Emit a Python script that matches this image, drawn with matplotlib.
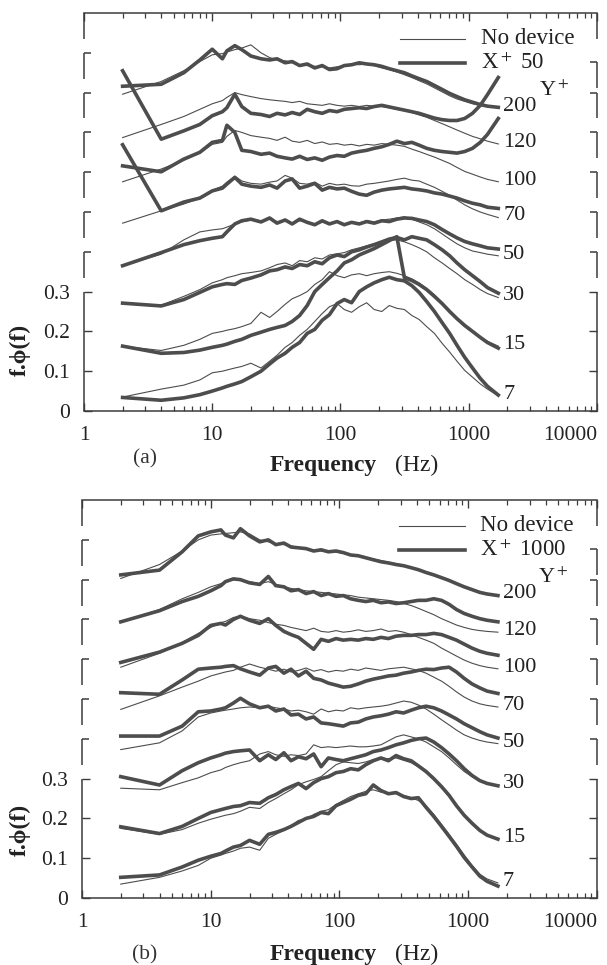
import matplotlib
matplotlib.use('Agg')
import matplotlib.pyplot as plt
from matplotlib.ticker import FixedLocator, LogLocator, NullFormatter

plt.rcParams['font.family'] = ['Liberation Serif', 'DejaVu Serif']
plt.rcParams['mathtext.fontset'] = 'stix'

INK = '#4d4d4d'
AXIS = '#3c3c3c'

# frequency bins (Hz), shared by every spectrum
freq = [2, 4, 6, 8, 10, 12, 13, 15, 17, 20, 24, 28, 32, 37,
        42, 48, 55, 63, 72, 82, 94, 107, 122, 140, 160, 183, 210, 240,
        275, 315, 360, 410, 470, 540, 620, 710, 810, 930, 1070, 1230, 1400, 1700]

y_plus = ['7', '15', '30', '50', '70', '100', '120', '200']
x_ticks = [1, 10, 100, 1000, 10000]
x_tick_labels = ['1', '10', '100', '1000', '10000']
y_ticks = [0, 0.1, 0.2, 0.3]
y_tick_labels = ['0', '0.1', '0.2', '0.3']

# ---- panel (a): no device / X+ 50 (curves already offset as drawn) ----
a_none_7 = [0.035, 0.055, 0.065, 0.078, 0.096, 0.100, 0.103, 0.108, 0.112, 0.120, 0.108, 0.125, 0.140, 0.160,
            0.172, 0.190, 0.205, 0.225, 0.245, 0.262, 0.270, 0.255, 0.248, 0.262, 0.272, 0.255, 0.250, 0.265,
            0.258, 0.255, 0.240, 0.230, 0.212, 0.195, 0.170, 0.148, 0.125, 0.102, 0.085, 0.068, 0.055, 0.038]
a_x50_7 = [0.034, 0.027, 0.033, 0.041, 0.050, 0.058, 0.062, 0.068, 0.074, 0.086, 0.100, 0.118, 0.133, 0.145,
           0.160, 0.172, 0.195, 0.205, 0.228, 0.242, 0.270, 0.280, 0.272, 0.300, 0.312, 0.322, 0.330, 0.336,
           0.330, 0.327, 0.315, 0.298, 0.275, 0.250, 0.222, 0.195, 0.165, 0.135, 0.108, 0.082, 0.062, 0.040]
a_none_15 = [0.163, 0.152, 0.165, 0.180, 0.195, 0.200, 0.203, 0.207, 0.212, 0.220, 0.248, 0.235, 0.250, 0.268,
             0.282, 0.290, 0.300, 0.318, 0.330, 0.350, 0.340, 0.335, 0.342, 0.345, 0.340, 0.345, 0.348, 0.350,
             0.346, 0.340, 0.332, 0.322, 0.308, 0.292, 0.272, 0.250, 0.230, 0.212, 0.198, 0.185, 0.175, 0.163]
a_x50_15 = [0.163, 0.145, 0.147, 0.153, 0.160, 0.165, 0.168, 0.175, 0.180, 0.190, 0.198, 0.205, 0.210, 0.215,
            0.225, 0.240, 0.265, 0.300, 0.318, 0.335, 0.352, 0.372, 0.380, 0.392, 0.400, 0.408, 0.418, 0.428,
            0.438, 0.335, 0.328, 0.318, 0.305, 0.288, 0.270, 0.250, 0.232, 0.215, 0.200, 0.185, 0.172, 0.158]
a_none_30 = [0.271, 0.266, 0.288, 0.305, 0.322, 0.330, 0.335, 0.340, 0.345, 0.348, 0.352, 0.360, 0.368, 0.372,
             0.365, 0.378, 0.375, 0.385, 0.382, 0.392, 0.395, 0.398, 0.405, 0.410, 0.415, 0.420, 0.425, 0.428,
             0.430, 0.425, 0.418, 0.410, 0.400, 0.385, 0.372, 0.358, 0.345, 0.330, 0.318, 0.305, 0.295, 0.285]
a_x50_30 = [0.271, 0.264, 0.280, 0.298, 0.312, 0.318, 0.320, 0.318, 0.328, 0.334, 0.342, 0.352, 0.355, 0.362,
            0.358, 0.368, 0.365, 0.375, 0.370, 0.385, 0.392, 0.388, 0.400, 0.405, 0.412, 0.418, 0.425, 0.432,
            0.436, 0.430, 0.438, 0.434, 0.430, 0.418, 0.405, 0.390, 0.372, 0.355, 0.340, 0.325, 0.310, 0.296]
a_none_50 = [0.365, 0.394, 0.430, 0.450, 0.455, 0.458, 0.462, 0.470, 0.475, 0.480, 0.478, 0.482, 0.476, 0.478,
             0.472, 0.478, 0.475, 0.470, 0.474, 0.472, 0.476, 0.470, 0.475, 0.472, 0.478, 0.475, 0.480, 0.482,
             0.485, 0.488, 0.482, 0.475, 0.468, 0.458, 0.445, 0.432, 0.420, 0.410, 0.402, 0.398, 0.394, 0.390]
a_x50_50 = [0.365, 0.398, 0.418, 0.428, 0.434, 0.438, 0.450, 0.470, 0.478, 0.482, 0.475, 0.485, 0.472, 0.480,
            0.470, 0.482, 0.474, 0.468, 0.478, 0.470, 0.476, 0.468, 0.474, 0.470, 0.476, 0.472, 0.478, 0.476,
            0.482, 0.485, 0.484, 0.480, 0.476, 0.468, 0.456, 0.445, 0.435, 0.426, 0.420, 0.415, 0.410, 0.407]
a_none_70 = [0.472, 0.503, 0.520, 0.535, 0.555, 0.565, 0.575, 0.590, 0.578, 0.572, 0.570, 0.575, 0.578, 0.592,
             0.585, 0.572, 0.570, 0.575, 0.565, 0.572, 0.568, 0.570, 0.566, 0.565, 0.570, 0.572, 0.575, 0.578,
             0.582, 0.585, 0.580, 0.578, 0.570, 0.562, 0.552, 0.542, 0.530, 0.518, 0.508, 0.500, 0.494, 0.486]
a_x50_70 = [0.669, 0.503, 0.525, 0.535, 0.553, 0.560, 0.570, 0.587, 0.570, 0.565, 0.562, 0.568, 0.560, 0.578,
            0.583, 0.560, 0.565, 0.572, 0.555, 0.562, 0.558, 0.560, 0.552, 0.545, 0.542, 0.550, 0.555, 0.558,
            0.560, 0.562, 0.558, 0.556, 0.553, 0.548, 0.545, 0.540, 0.535, 0.528, 0.522, 0.518, 0.512, 0.509]
a_none_100 = [0.576, 0.608, 0.630, 0.648, 0.670, 0.675, 0.690, 0.705, 0.700, 0.692, 0.688, 0.685, 0.680, 0.688,
              0.678, 0.675, 0.680, 0.672, 0.676, 0.670, 0.672, 0.668, 0.670, 0.666, 0.670, 0.668, 0.672, 0.670,
              0.668, 0.665, 0.658, 0.652, 0.645, 0.638, 0.630, 0.622, 0.612, 0.602, 0.595, 0.588, 0.582, 0.576]
a_x50_100 = [0.616, 0.601, 0.633, 0.650, 0.675, 0.680, 0.718, 0.700, 0.655, 0.652, 0.645, 0.648, 0.640, 0.636,
             0.633, 0.640, 0.632, 0.636, 0.630, 0.638, 0.642, 0.640, 0.648, 0.652, 0.655, 0.660, 0.664, 0.670,
             0.678, 0.672, 0.675, 0.668, 0.660, 0.655, 0.652, 0.650, 0.648, 0.652, 0.660, 0.675, 0.695, 0.735]
a_none_120 = [0.687, 0.720, 0.740, 0.758, 0.772, 0.780, 0.788, 0.800, 0.795, 0.790, 0.785, 0.782, 0.780, 0.778,
              0.775, 0.778, 0.772, 0.770, 0.768, 0.772, 0.768, 0.766, 0.768, 0.765, 0.768, 0.766, 0.765, 0.762,
              0.758, 0.755, 0.750, 0.744, 0.738, 0.730, 0.722, 0.714, 0.706, 0.698, 0.690, 0.684, 0.678, 0.671]
a_x50_120 = [0.855, 0.683, 0.704, 0.720, 0.742, 0.752, 0.762, 0.796, 0.765, 0.748, 0.745, 0.740, 0.748, 0.744,
             0.750, 0.745, 0.758, 0.752, 0.748, 0.755, 0.752, 0.758, 0.760, 0.762, 0.760, 0.765, 0.768, 0.764,
             0.760, 0.756, 0.752, 0.748, 0.742, 0.736, 0.732, 0.730, 0.730, 0.735, 0.748, 0.768, 0.795, 0.838]
a_none_200 = [0.796, 0.828, 0.855, 0.878, 0.895, 0.898, 0.902, 0.908, 0.912, 0.920, 0.900, 0.888, 0.882, 0.880,
              0.875, 0.870, 0.868, 0.866, 0.865, 0.862, 0.865, 0.868, 0.872, 0.870, 0.872, 0.868, 0.862, 0.858,
              0.852, 0.845, 0.838, 0.830, 0.822, 0.812, 0.802, 0.792, 0.784, 0.778, 0.772, 0.768, 0.765, 0.762]
a_x50_200 = [0.816, 0.821, 0.850, 0.882, 0.909, 0.885, 0.905, 0.918, 0.908, 0.892, 0.885, 0.882, 0.885, 0.875,
             0.878, 0.868, 0.872, 0.862, 0.868, 0.858, 0.860, 0.868, 0.870, 0.875, 0.872, 0.870, 0.866, 0.860,
             0.855, 0.850, 0.842, 0.835, 0.828, 0.818, 0.808, 0.798, 0.790, 0.782, 0.776, 0.770, 0.766, 0.763]

# ---- panel (b): no device / X+ 1000 ----
b_none_7 = [0.035, 0.052, 0.068, 0.082, 0.100, 0.108, 0.112, 0.118, 0.125, 0.128, 0.120, 0.150, 0.160, 0.170,
            0.182, 0.195, 0.198, 0.210, 0.218, 0.222, 0.235, 0.245, 0.255, 0.262, 0.268, 0.272, 0.266, 0.265,
            0.262, 0.258, 0.252, 0.245, 0.232, 0.210, 0.185, 0.160, 0.135, 0.108, 0.082, 0.060, 0.048, 0.038]
b_x1000_7 = [0.052, 0.058, 0.078, 0.095, 0.105, 0.112, 0.118, 0.128, 0.132, 0.145, 0.135, 0.160, 0.165, 0.172,
             0.180, 0.190, 0.200, 0.205, 0.215, 0.212, 0.232, 0.240, 0.248, 0.258, 0.262, 0.284, 0.270, 0.262,
             0.265, 0.255, 0.250, 0.252, 0.228, 0.205, 0.180, 0.155, 0.130, 0.102, 0.078, 0.055, 0.042, 0.030]
b_none_15 = [0.175, 0.160, 0.172, 0.188, 0.198, 0.205, 0.208, 0.212, 0.218, 0.228, 0.225, 0.240, 0.250, 0.262,
             0.272, 0.285, 0.292, 0.298, 0.305, 0.320, 0.335, 0.342, 0.340, 0.338, 0.342, 0.348, 0.352, 0.350,
             0.352, 0.346, 0.340, 0.330, 0.315, 0.298, 0.278, 0.256, 0.232, 0.208, 0.188, 0.170, 0.158, 0.148]
b_x1000_15 = [0.179, 0.162, 0.180, 0.200, 0.215, 0.222, 0.225, 0.230, 0.232, 0.240, 0.238, 0.252, 0.260, 0.272,
              0.280, 0.288, 0.275, 0.290, 0.300, 0.305, 0.315, 0.318, 0.325, 0.322, 0.335, 0.345, 0.352, 0.345,
              0.358, 0.350, 0.345, 0.332, 0.318, 0.300, 0.280, 0.258, 0.232, 0.208, 0.188, 0.170, 0.158, 0.148]
b_none_30 = [0.276, 0.272, 0.290, 0.302, 0.315, 0.322, 0.328, 0.335, 0.340, 0.345, 0.362, 0.368, 0.360, 0.356,
             0.360, 0.358, 0.362, 0.385, 0.378, 0.380, 0.378, 0.380, 0.382, 0.380, 0.380, 0.382, 0.385, 0.395,
             0.405, 0.410, 0.405, 0.400, 0.392, 0.380, 0.368, 0.352, 0.335, 0.318, 0.305, 0.295, 0.288, 0.283]
b_x1000_30 = [0.305, 0.284, 0.320, 0.340, 0.352, 0.360, 0.364, 0.368, 0.370, 0.372, 0.345, 0.360, 0.348, 0.365,
              0.345, 0.355, 0.350, 0.362, 0.330, 0.352, 0.348, 0.345, 0.350, 0.355, 0.360, 0.368, 0.372, 0.378,
              0.385, 0.390, 0.396, 0.400, 0.402, 0.392, 0.378, 0.362, 0.345, 0.325, 0.308, 0.295, 0.288, 0.282]
b_none_50 = [0.373, 0.390, 0.420, 0.455, 0.465, 0.470, 0.472, 0.475, 0.478, 0.480, 0.478, 0.482, 0.478, 0.475,
             0.470, 0.472, 0.468, 0.462, 0.475, 0.468, 0.472, 0.470, 0.478, 0.475, 0.478, 0.480, 0.482, 0.485,
             0.490, 0.495, 0.492, 0.485, 0.475, 0.462, 0.448, 0.435, 0.422, 0.410, 0.402, 0.396, 0.392, 0.388]
b_x1000_50 = [0.407, 0.407, 0.432, 0.468, 0.470, 0.475, 0.478, 0.490, 0.502, 0.488, 0.478, 0.482, 0.470, 0.475,
              0.460, 0.462, 0.450, 0.455, 0.440, 0.438, 0.435, 0.432, 0.440, 0.442, 0.450, 0.455, 0.458, 0.462,
              0.468, 0.465, 0.472, 0.478, 0.482, 0.478, 0.470, 0.460, 0.450, 0.438, 0.428, 0.418, 0.410, 0.402]
b_none_70 = [0.474, 0.508, 0.530, 0.545, 0.558, 0.565, 0.568, 0.572, 0.580, 0.588, 0.580, 0.575, 0.570, 0.575,
             0.568, 0.572, 0.578, 0.570, 0.574, 0.568, 0.572, 0.570, 0.575, 0.572, 0.578, 0.575, 0.572, 0.576,
             0.578, 0.580, 0.576, 0.572, 0.565, 0.555, 0.545, 0.532, 0.518, 0.505, 0.495, 0.488, 0.484, 0.480]
b_x1000_70 = [0.516, 0.512, 0.548, 0.575, 0.578, 0.580, 0.582, 0.584, 0.576, 0.568, 0.560, 0.578, 0.582, 0.565,
              0.575, 0.558, 0.570, 0.552, 0.548, 0.540, 0.535, 0.530, 0.532, 0.538, 0.545, 0.550, 0.554, 0.558,
              0.560, 0.565, 0.568, 0.572, 0.575, 0.574, 0.578, 0.580, 0.568, 0.552, 0.538, 0.528, 0.520, 0.514]
b_none_100 = [0.580, 0.615, 0.642, 0.665, 0.680, 0.692, 0.695, 0.705, 0.708, 0.702, 0.698, 0.692, 0.688, 0.685,
              0.680, 0.676, 0.672, 0.678, 0.670, 0.668, 0.672, 0.668, 0.670, 0.674, 0.670, 0.672, 0.676, 0.670,
              0.672, 0.668, 0.662, 0.655, 0.648, 0.640, 0.628, 0.618, 0.608, 0.598, 0.590, 0.584, 0.580, 0.576]
b_x1000_100 = [0.592, 0.618, 0.640, 0.660, 0.685, 0.690, 0.686, 0.700, 0.708, 0.698, 0.690, 0.702, 0.685, 0.670,
               0.662, 0.655, 0.640, 0.625, 0.650, 0.645, 0.652, 0.648, 0.650, 0.648, 0.652, 0.650, 0.655, 0.652,
               0.658, 0.660, 0.660, 0.662, 0.662, 0.665, 0.662, 0.655, 0.648, 0.638, 0.628, 0.620, 0.615, 0.610]
b_none_120 = [0.694, 0.725, 0.752, 0.768, 0.782, 0.790, 0.795, 0.800, 0.798, 0.795, 0.790, 0.795, 0.788, 0.782,
              0.778, 0.775, 0.772, 0.770, 0.768, 0.766, 0.764, 0.762, 0.760, 0.756, 0.754, 0.752, 0.750, 0.748,
              0.745, 0.740, 0.735, 0.728, 0.720, 0.712, 0.702, 0.694, 0.686, 0.680, 0.675, 0.672, 0.670, 0.668]
b_x1000_120 = [0.694, 0.722, 0.745, 0.758, 0.772, 0.785, 0.795, 0.802, 0.800, 0.792, 0.788, 0.808, 0.785, 0.782,
               0.772, 0.775, 0.765, 0.770, 0.760, 0.765, 0.758, 0.760, 0.752, 0.748, 0.745, 0.748, 0.742, 0.744,
               0.740, 0.742, 0.745, 0.748, 0.748, 0.752, 0.748, 0.738, 0.725, 0.715, 0.708, 0.702, 0.698, 0.694]
b_none_200 = [0.803, 0.838, 0.872, 0.900, 0.912, 0.915, 0.916, 0.918, 0.920, 0.915, 0.900, 0.895, 0.890, 0.888,
              0.885, 0.880, 0.876, 0.874, 0.872, 0.870, 0.870, 0.866, 0.862, 0.860, 0.856, 0.852, 0.848, 0.844,
              0.840, 0.835, 0.830, 0.825, 0.818, 0.812, 0.805, 0.798, 0.790, 0.782, 0.775, 0.768, 0.764, 0.760]
b_x1000_200 = [0.812, 0.824, 0.870, 0.910, 0.920, 0.925, 0.912, 0.905, 0.928, 0.910, 0.895, 0.900, 0.888, 0.892,
               0.882, 0.880, 0.878, 0.872, 0.875, 0.870, 0.872, 0.868, 0.862, 0.860, 0.855, 0.850, 0.845, 0.842,
               0.838, 0.835, 0.830, 0.825, 0.818, 0.812, 0.805, 0.798, 0.790, 0.782, 0.775, 0.768, 0.764, 0.760]

a_none = [a_none_7, a_none_15, a_none_30, a_none_50, a_none_70, a_none_100, a_none_120, a_none_200]
a_dev = [a_x50_7, a_x50_15, a_x50_30, a_x50_50, a_x50_70, a_x50_100, a_x50_120, a_x50_200]
b_none = [b_none_7, b_none_15, b_none_30, b_none_50, b_none_70, b_none_100, b_none_120, b_none_200]
b_dev = [b_x1000_7, b_x1000_15, b_x1000_30, b_x1000_50, b_x1000_70, b_x1000_100, b_x1000_120, b_x1000_200]

FS = 15.5
TICK_W = 0.0135        # bracket tick length, axes fraction
LEFT_BRACKETS = [0.4, 0.5, 0.6, 0.7, 0.8, 0.9]
RIGHT_BRACKETS = [0.4, 0.5, 0.6, 0.7, 0.8, 0.876]
GAP = 0.065


def broken_side(ax, x, brackets, inward):
    tr = ax.get_yaxis_transform()
    kw = dict(color=AXIS, lw=1.1, transform=tr, clip_on=False, solid_capstyle='butt')
    ax.plot([x, x], [0, 0.3], **kw)
    for top in brackets:
        ax.plot([x, x], [top - GAP, top], **kw)
        ax.plot([x, x + inward], [top, top], **kw)
    ax.plot([x, x], [0.935, 1.0], **kw)


def setup_axes(ax):
    ax.set_xscale('log')
    ax.set_xlim(1, 10000)
    ax.set_ylim(0, 1.0)
    ax.spines['left'].set_visible(False)
    ax.spines['right'].set_visible(False)
    for side in ('top', 'bottom'):
        ax.spines[side].set_color(AXIS)
        ax.spines[side].set_linewidth(1.1)
    ax.xaxis.set_major_locator(FixedLocator(x_ticks))
    ax.xaxis.set_minor_locator(LogLocator(base=10, subs=range(2, 10), numticks=20))
    ax.xaxis.set_minor_formatter(NullFormatter())
    ax.set_xticklabels(x_tick_labels)
    ax.set_yticks(y_ticks)
    ax.set_yticklabels(y_tick_labels)
    ax.tick_params(which='both', direction='in', top=True, right=True,
                   color=AXIS, labelsize=FS, labelcolor='#222222')
    ax.tick_params(which='major', length=6, width=1.0)
    ax.tick_params(which='minor', length=3.5, width=0.9)
    ax.tick_params(axis='x', pad=10.5)
    ax.tick_params(axis='y', pad=10)
    ax.get_xticklabels()[-1].set_horizontalalignment('right')
    broken_side(ax, 0, LEFT_BRACKETS, TICK_W)
    broken_side(ax, 1, RIGHT_BRACKETS, -TICK_W)


def draw_panel(ax, none, dev, dev_label):
    setup_axes(ax)
    for thin, thick, lab in zip(none, dev, y_plus):
        ax.plot(freq, thin, color=INK, lw=0.8)
        ax.plot(freq, thick, color=INK, lw=2.6, solid_joinstyle='round')
        ax.text(1850, thin[-1] + 0.004, lab, fontsize=FS + 0.5, va='center', ha='left', color='#222222')
    ax.text(3500, 0.805, 'Y$^+$', fontsize=FS + 0.5, va='center', ha='left', color='#222222')

    # key
    ax.plot([0.616, 0.743], [0.935, 0.935], transform=ax.transAxes, color=INK, lw=0.8)
    ax.plot([0.616, 0.743], [0.874, 0.874], transform=ax.transAxes, color=INK, lw=2.6)
    ax.text(0.773, 0.935, 'No device', transform=ax.transAxes, fontsize=FS + 1,
            va='center', ha='left', color='#222222')
    ax.text(0.773, 0.874, dev_label, transform=ax.transAxes, fontsize=FS + 1,
            va='center', ha='left', color='#222222')


fig = plt.figure(figsize=(6.07, 9.65), dpi=100)
ax_a = fig.add_axes([0.1384, 0.5741, 0.8451, 0.4124])
ax_b = fig.add_axes([0.1351, 0.0694, 0.8484, 0.4124])

draw_panel(ax_a, a_none, a_dev, 'X$^+$ 50')
draw_panel(ax_b, b_none, b_dev, 'X$^+$ 1000')

for y_lab, y_tag, y_txt, tag in [(0.637, 0.524, 0.518, '(a)'), (0.14, 0.011, 0.011, '(b)')]:
    fig.text(0.033, y_lab, 'f.ϕ(f)', rotation=90, fontsize=17, fontweight='bold',
             ha='center', va='center', color='#222222')
    fig.text(0.239, y_tag, tag, fontsize=FS, ha='center', va='center', color='#333333')
    fig.text(0.621, y_txt, 'Frequency', fontsize=FS + 1.5, fontweight='bold',
             ha='right', va='center', color='#222222')
    fig.text(0.651, y_txt, '(Hz)', fontsize=FS + 1.5, ha='left', va='center', color='#222222')

fig.savefig('out.png', dpi=100)
